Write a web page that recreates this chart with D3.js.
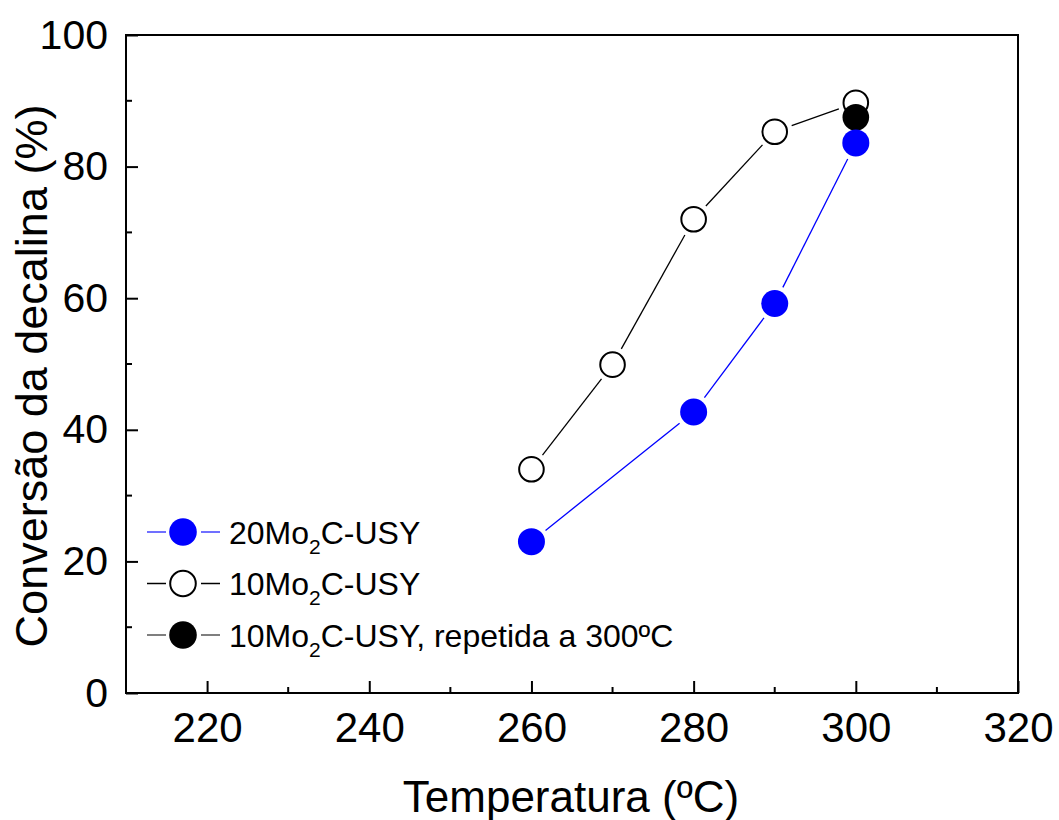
<!DOCTYPE html>
<html>
<head>
<meta charset="utf-8">
<script src="https://cdn.jsdelivr.net/npm/d3@7"></script>
<style>
  body { margin: 0; background: #fff; }
  svg text { font-family: "Liberation Sans", Arial, sans-serif; fill: #000; }
</style>
</head>
<body>
<div id="chart"></div>
<script>
// data
const temps20 = [260, 280, 290, 300];
const conv20 = [23.0, 42.7, 59.2, 83.6];
const temps10 = [260, 270, 280, 290, 300];
const conv10 = [34.0, 49.9, 72.0, 85.3, 89.7];
const tempsRep = [300];
const convRep = [87.5];
const xTicks = [220, 240, 260, 280, 300, 320];
const yTicks = [0, 20, 40, 60, 80, 100];

const width = 1059, height = 820;
const margin = {top: 35, right: 41, bottom: 127, left: 126};
const w = width - margin.left - margin.right;
const h = height - margin.top - margin.bottom;

const svg = d3.select("#chart").append("svg")
    .attr("width", width)
    .attr("height", height);

const g = svg.append("g").attr("transform", `translate(${margin.left},${margin.top})`);

const x = d3.scaleLinear().domain([210, 320]).range([0, w]);
const y = d3.scaleLinear().domain([0, 100]).range([h, 0]);

// frame
g.append("rect")
    .attr("width", w).attr("height", h)
    .attr("fill", "none").attr("stroke", "#000").attr("stroke-width", 2);

// bottom axis, ticks pointing inward
const xAxis = g.append("g").attr("transform", `translate(0,${h})`)
    .call(d3.axisBottom(x).tickValues(xTicks).tickSize(-12).tickPadding(19).tickFormat(d3.format("d")));
xAxis.select(".domain").remove();
xAxis.selectAll(".tick line").attr("stroke-width", 2);
xAxis.selectAll("text").attr("font-size", 42);

const xMinor = d3.range(230, 320, 20);
g.selectAll(".xminor").data(xMinor).enter().append("line")
    .attr("x1", d => x(d)).attr("x2", d => x(d))
    .attr("y1", h).attr("y2", h - 6)
    .attr("stroke", "#000").attr("stroke-width", 2);

const yAxis = g.append("g")
    .call(d3.axisLeft(y).tickValues(yTicks).tickSize(-12).tickPadding(18));
yAxis.select(".domain").remove();
yAxis.selectAll(".tick line").attr("stroke-width", 2);
yAxis.selectAll("text").attr("font-size", 41);

const yMinor = d3.range(10, 100, 20);
g.selectAll(".yminor").data(yMinor).enter().append("line")
    .attr("x1", 0).attr("x2", 6)
    .attr("y1", d => y(d)).attr("y2", d => y(d))
    .attr("stroke", "#000").attr("stroke-width", 2);

// axis titles
svg.append("text")
    .attr("x", 571).attr("y", 812)
    .attr("text-anchor", "middle").attr("font-size", 44)
    .text("Temperatura (ºC)");

svg.append("text")
    .attr("transform", "translate(47,376) rotate(-90)")
    .attr("text-anchor", "middle").attr("font-size", 45)
    .text("Conversão da decalina (%)");

// line segments between points, stopped short of the markers (gap)
function drawSegments(pts, color, gap) {
  const segs = d3.pairs(pts).map(([a, b]) => {
    const x1 = x(a[0]), y1 = y(a[1]), x2 = x(b[0]), y2 = y(b[1]);
    const len = Math.hypot(x2 - x1, y2 - y1);
    const ux = (x2 - x1) / len, uy = (y2 - y1) / len;
    return [x1 + ux * gap, y1 + uy * gap, x2 - ux * gap, y2 - uy * gap];
  });
  g.selectAll(null).data(segs).enter().append("line")
      .attr("x1", d => d[0]).attr("y1", d => d[1])
      .attr("x2", d => d[2]).attr("y2", d => d[3])
      .attr("stroke", color).attr("stroke-width", 1.3);
}

// 10Mo2C-USY open circles
const d10 = temps10.map((t, i) => [t, conv10[i]]);
drawSegments(d10, "#000", 18);
g.selectAll(".c10").data(d10).enter().append("circle")
    .attr("cx", d => x(d[0])).attr("cy", d => y(d[1])).attr("r", 12.3)
    .attr("fill", "#fff").attr("stroke", "#000").attr("stroke-width", 2);

// repeated run
const dRep = tempsRep.map((t, i) => [t, convRep[i]]);
g.selectAll(".crep").data(dRep).enter().append("circle")
    .attr("cx", d => x(d[0])).attr("cy", d => y(d[1])).attr("r", 13.3)
    .attr("fill", "#000");

// 20Mo2C-USY blue
const d20 = temps20.map((t, i) => [t, conv20[i]]);
drawSegments(d20, "#0000ff", 18);
g.selectAll(".c20").data(d20).enter().append("circle")
    .attr("cx", d => x(d[0])).attr("cy", d => y(d[1])).attr("r", 13.5)
    .attr("fill", "#0000ff");

// legend
const legendItems = [
  {name: "20Mo", tail: "C-USY", line: "#4040ff", fill: "#0000ff", stroke: "none"},
  {name: "10Mo", tail: "C-USY", line: "#000", fill: "#fff", stroke: "#000"},
  {name: "10Mo", tail: "C-USY, repetida a 300ºC", line: "#555", fill: "#000", stroke: "none"}
];
const legend = svg.append("g");
legendItems.forEach((it, i) => {
  const ly = 532 + i * 51.5;
  const row = legend.append("g").attr("transform", `translate(0,${ly})`);
  row.append("line").attr("x1", 147).attr("x2", 166).attr("y1", 0).attr("y2", 0)
      .attr("stroke", it.line).attr("stroke-width", 1.5);
  row.append("line").attr("x1", 201).attr("x2", 220).attr("y1", 0).attr("y2", 0)
      .attr("stroke", it.line).attr("stroke-width", 1.5);
  row.append("circle").attr("cx", 183).attr("cy", 0).attr("r", it.stroke === "none" ? 13.8 : 12.8)
      .attr("fill", it.fill).attr("stroke", it.stroke).attr("stroke-width", 2);
  const t = row.append("text").attr("x", 229).attr("y", 11.5).attr("font-size", 32);
  t.append("tspan").text(it.name);
  t.append("tspan").attr("font-size", 21).attr("dy", 10).text("2");
  t.append("tspan").attr("dy", -10).text(it.tail);
});
</script>
</body>
</html>
